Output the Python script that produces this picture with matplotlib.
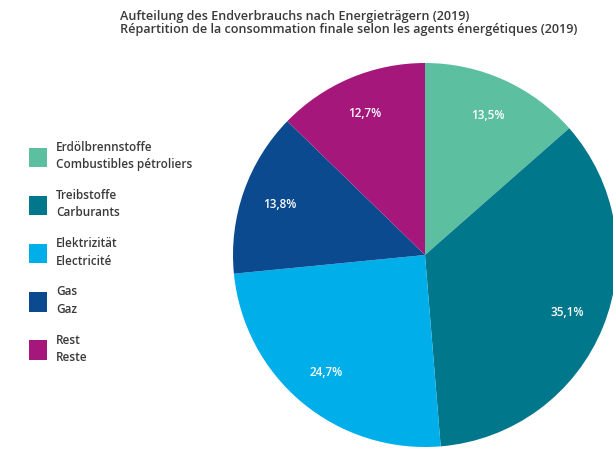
import matplotlib
matplotlib.use("Agg")
import matplotlib.pyplot as plt

plt.rcParams['font.family'] = ['Open Sans', 'DejaVu Sans']

labels = [
    "Erdölbrennstoffe\nCombustibles pétroliers",
    "Treibstoffe\nCarburants",
    "Elektrizität\nElectricité",
    "Gas\nGaz",
    "Rest\nReste",
]
shares = [13.5, 35.1, 24.7, 13.8, 12.7]
colors = ["#5cbf9f", "#00778a", "#00aee9", "#0b4a8f", "#a6177c"]

title = ("Aufteilung des Endverbrauchs nach Energieträgern (2019)\n"
         "Répartition de la consommation finale selon les agents énergétiques (2019)")

W, H = 613, 457
fig = plt.figure(figsize=(W / 100, H / 100), dpi=100)
fig.patch.set_facecolor("white")

# pie centre (425, 255) px, radius 192 px
cx, cy, r = 425, 255, 192
ax = fig.add_axes([(cx - r) / W, (H - cy - r) / H, 2 * r / W, 2 * r / H])
wedges, _, autotexts = ax.pie(
    shares, colors=colors, startangle=90, counterclock=False,
    autopct='%1.1f%%', pctdistance=0.8,
    wedgeprops={'linewidth': 0},
    textprops={'color': 'white', 'fontsize': 8.5, 'fontweight': 'semibold'},
)
# show the read values (with decimal comma), not renormalised ones
for t, v in zip(autotexts, shares):
    t.set_text(f"{v:.1f}%".replace(".", ","))
ax.set_xlim(-1, 1)
ax.set_ylim(-1, 1)
ax.set_aspect('auto')
ax.axis('off')

fig.text(120 / W, 1 - 10 / H, title, ha='left', va='top', fontsize=9.1,
         fontweight='semibold', color='#3a3a3a', linespacing=1.05)

leg = fig.legend(
    wedges, labels, loc='upper left', bbox_to_anchor=(24 / W, 1 - 136 / H),
    frameon=False, fontsize=8.5, handlelength=1.53, handleheight=2.14,
    handletextpad=0.76, labelspacing=1.5, borderaxespad=0,
)
for t in leg.get_texts():
    t.set_color('#3a3a3a')
    t.set_fontweight('semibold')
    t.set_linespacing(1.45)

fig.savefig("out.png", dpi=100, facecolor="white")
